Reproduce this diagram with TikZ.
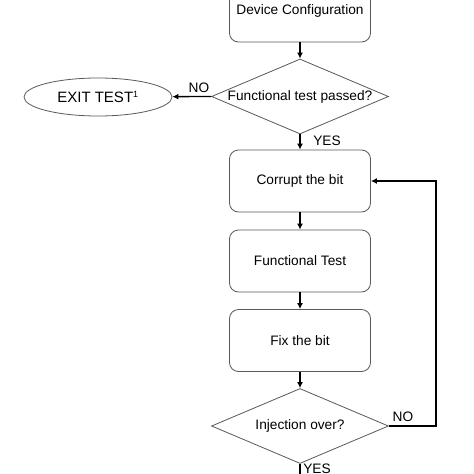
\documentclass[tikz,border=0pt]{standalone}
\usepackage{fontspec}
\setmainfont{Liberation Sans}
\usetikzlibrary{shapes.geometric,arrows.meta}
\begin{document}
\begin{tikzpicture}[x=1pt,y=-1pt,
  box/.style={draw=black!65,line width=0.8pt,rounded corners=9pt,minimum width=141pt,minimum height=62pt,inner sep=0pt,font=\fontsize{13.7}{16}\selectfont},
  diam/.style={draw=black!65,line width=0.8pt,diamond,minimum width=177pt,minimum height=75pt,inner sep=0pt},
  term/.style={draw=black!65,line width=0.8pt,ellipse,minimum width=148pt,minimum height=38pt,inner sep=0pt,font=\fontsize{15}{17}\selectfont},
  txt/.style={font=\fontsize{13.7}{16}\selectfont,inner sep=0pt},
  arr/.style={-{Latex[length=6pt,width=6pt]},line width=1.3pt,black},
  lab/.style={font=\fontsize{13.7}{16}\selectfont,inner sep=0pt}]
\useasboundingbox (0,0) rectangle (474,474);
\fill[white] (0,0) rectangle (474,474);
\node[box] (dev) at (300,11) {Device Configuration};
\node[diam] (d1) at (300,96.5) {};
\node[txt] (d1t) at (d1.center) {Functional test passed?};
\node[term] (exit) at (98,97) {EXIT TEST\textsuperscript{\fontsize{9}{10}\selectfont 1}};
\node[box] (cor) at (300,181) {Corrupt the bit};
\node[box] (ft) at (300,261) {Functional Test};
\node[box] (fix) at (300,340.5) {Fix the bit};
\node[diam] (d2) at (300,426) {};
\node[txt] (d2t) at (d2.center) {Injection over?};
\coordinate (end) at (300,490);
\coordinate (corner1) at (436,426);
\coordinate (corner2) at (436,181);
\draw[arr] (dev) -- (d1);
\draw[arr] (d1.west) -- (exit);
\draw[arr] (d1) -- (cor);
\draw[arr] (cor) -- (ft);
\draw[arr] (ft) -- (fix);
\draw[arr] (fix) -- (d2);
\draw[arr] (d2.south) -- (end);
\draw[arr] (d2.east) -- (corner1) -- (corner2) -- (cor.east);
\node[lab] at (199,88) {NO};
\node[lab] at (327,141) {YES};
\node[lab] at (403,417) {NO};
\node[lab,anchor=north] at (317,464) {YES};
\end{tikzpicture}
\end{document}
